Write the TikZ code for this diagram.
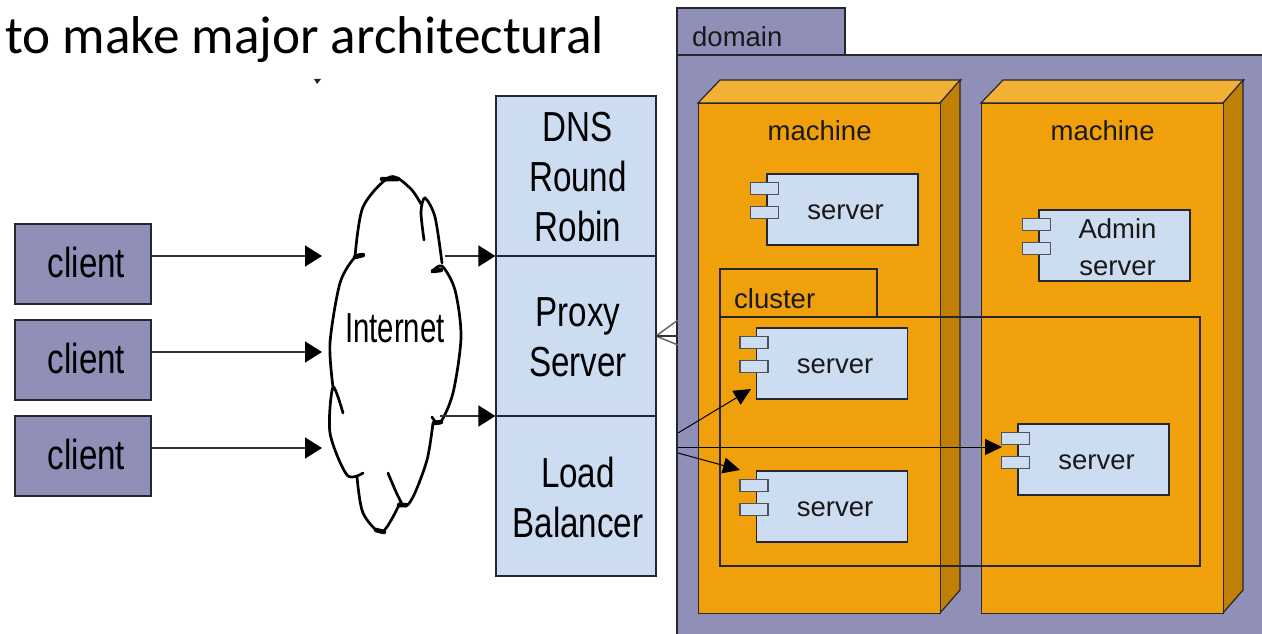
\documentclass[tikz,border=0pt]{standalone}
\usepackage{fontspec}
\setmainfont{Liberation Sans}
\newfontfamily\titlefont{Carlito}
\newfontfamily\narrowfont[FakeStretch=0.79]{Liberation Sans}
\newfontfamily\cloudfont[FakeStretch=0.7]{Liberation Sans}
\usetikzlibrary{arrows.meta,calc}
\definecolor{clientfill}{HTML}{8F8FB7}
\definecolor{bluefill}{HTML}{CCDDF2}
\definecolor{frontfill}{HTML}{F0A00A}
\definecolor{topfill}{HTML}{F2B035}
\definecolor{sidefill}{HTML}{BF8005}
\definecolor{edgecol}{HTML}{262630}
\newcommand{\clienttxt}[1]{\hspace*{7pt}\raisebox{2pt}[\height][\depth]{#1}}
\newcommand{\stacktxt}[1]{\hspace*{4pt}\raisebox{-1pt}[\height][\depth]{#1}}
\newcommand{\srvtxt}[1]{\hspace*{6pt}\raisebox{-3pt}[\height][\depth]{#1}}
\newcommand{\admintxt}[1]{\hspace*{6pt}\raisebox{-2pt}[\height][\depth]{#1}}
\tikzset{
  bigtext/.style={font=\narrowfont\fontsize{42}{50}\selectfont,align=center,text=black},
  smalltext/.style={font=\fontsize{27.5}{37}\selectfont,align=center,text=black!90},
  clientbox/.style={draw=edgecol,line width=1.2pt,fill=clientfill,minimum width=136pt,minimum height=80pt,inner sep=0pt,bigtext},
  stackbox/.style={draw=edgecol,line width=1.2pt,fill=bluefill,minimum width=160pt,minimum height=160pt,inner sep=0pt,bigtext},
  srvbox/.style={draw=edgecol,line width=1.2pt,fill=bluefill,minimum width=151pt,minimum height=71pt,inner sep=0pt,smalltext},
  srvtab/.style={draw=edgecol!80,line width=1.2pt,fill=bluefill},
  thinline/.style={draw=edgecol,line width=1.2pt},
  flow/.style={-{Triangle[length=17pt,width=21pt,color=black]},line width=1.6pt,draw=black!80},
  fan/.style={-{Triangle[length=17pt,width=16pt]},line width=1pt,draw=black},
  cloudline/.style={line width=2.7pt,black,smooth,line cap=round},
  cloudblob/.style={line width=4.5pt,black,line cap=round}
}
\begin{document}
\begin{tikzpicture}[x=1pt,y=-1pt]
  \useasboundingbox (0,0) rectangle (1262,634);
  % heading
  \node (heading) [anchor=base west,inner sep=0pt,font=\titlefont\fontsize{53.2}{58}\selectfont] at (5,54) {to make major architectural};
  \fill[black!85] (314,79) -- (321,79) -- (317,84) -- cycle;
  % clients
  \node (client1) [clientbox] at (83,264) {\clienttxt{client}};
  \node (client2) [clientbox] at (83,360) {\clienttxt{client}};
  \node (client3) [clientbox] at (83,456) {\clienttxt{client}};
  % internet cloud
  \draw[cloudline] plot coordinates {(424,240) (421,212) (425,198) (435,217) (442,263)};
  \draw[cloudline] plot coordinates {(432,272) (442,266) (455,290) (461,337) (453,393) (440,423) (432,417)};
  \draw[cloudline] plot coordinates {(433,423) (427,460) (413,497) (403,505) (388,473)};
  \draw[cloudline] plot coordinates {(400,503) (382,532) (363,513) (357,477)};
  \draw[cloudline] plot coordinates {(363,473) (347,475) (330,433) (333,387) (343,413)};
  \draw[cloudline] plot coordinates {(333,387) (330,343) (340,283) (355,257) (363,255)};
  \draw[cloudline] plot coordinates {(355,257) (363,207) (390,177) (410,188) (421,204)};
  \draw[cloudblob] (382,179) -- (398,179) (355,257) -- (363,255) (433,271) -- (441,270)
    (434,423) -- (441,422) (399,505) -- (406,505) (376,530) -- (384,532);
  \node (internet) [font=\cloudfont\fontsize{42}{50}\selectfont,inner sep=0pt] at (395,328) {Internet};
  % front end stack
  \node (dns) [stackbox] at (576,176) {\stacktxt{DNS}\\\stacktxt{Round}\\\stacktxt{Robin}};
  \node (proxy) [stackbox] at (576,336) {\stacktxt{Proxy}\\\stacktxt{Server}};
  \node (balancer) [stackbox] at (576,496) {\stacktxt{Load}\\\stacktxt{Balancer}};
  % domain
  \node (domaintab) [thinline,fill=clientfill,minimum width=168pt,minimum height=47pt,inner sep=0pt] at (761,31.5) {};
  \node (domain) [thinline,fill=clientfill,minimum width=590pt,minimum height=590pt,inner sep=0pt] at (972,350) {};
  \node [smalltext,anchor=base west,inner sep=0pt] at (692,47) {domain};
  % machines
  \foreach \x/\n in {698/mOne,981/mTwo}{
    \draw[thinline,fill=topfill] (\x,103) -- ++(22,-23) -- ++(241,0) -- ++(-21,23) -- cycle;
    \draw[thinline,fill=sidefill] (\x+242,103) -- ++(20,-23) -- ++(0,510) -- ++(-20,23) -- cycle;
    \node (\n) [thinline,fill=frontfill,minimum width=242pt,minimum height=510pt,inner sep=0pt,anchor=north west] at (\x,103) {};
    \node [smalltext,inner sep=0pt] at ($(\n.north)+(0,28)$) {machine};
  }
  % cluster
  \draw[thinline] (720,317) rectangle (1200,566);
  \draw[thinline] (720,317) -- (720,269) -- (877,269) -- (877,317);
  \node [smalltext,anchor=base west,inner sep=0pt] at (734,308) {cluster};
  % servers
  \node (srvA) [srvbox] at (842.5,209.5) {\srvtxt{server}};
  \node (srvAdmin) [srvbox] at (1114.5,245.5) {\admintxt{Admin}\\\admintxt{server}};
  \node (srvB) [srvbox] at (832,363.5) {\srvtxt{server}};
  \node (srvC) [srvbox] at (832,506.5) {\srvtxt{server}};
  \node (srvD) [srvbox] at (1093.5,459.5) {\srvtxt{server}};
  \foreach \n in {srvA,srvAdmin,srvB,srvC,srvD}{
    \draw[srvtab] ($(\n.north west)+(-16,9)$) rectangle +(28,12);
    \draw[srvtab] ($(\n.north west)+(-16,33)$) rectangle +(28,12);
  }
  % arrows into the cloud
  \foreach \i/\y in {1/256,2/352,3/448}{
    \coordinate (cloudin\i) at (322,\y);
    \draw[flow] (client\i.east |- cloudin\i) -- (cloudin\i);
  }
  % arrows out of the cloud
  \coordinate (cloudoutA) at (445,256);
  \coordinate (cloudoutB) at (440,416);
  \draw[flow] (cloudoutA) -- (cloudoutA -| dns.west);
  \draw[flow] (cloudoutB) -- (cloudoutB -| proxy.west);
  % proxy to domain
  \coordinate (proxytip) at (656,336);
  \draw[black!60,line width=1.5pt] (proxytip) -- (678,320) (proxytip) -- (678,345);
  \draw[black!80,line width=1.3pt] (proxytip) -- (678,336);
  % balancer to servers
  \coordinate (fanA) at (678,433);
  \coordinate (fanB) at (678,447);
  \coordinate (fanC) at (678,453);
  \coordinate (tipB) at (751,389);
  \coordinate (tipC) at (740,470);
  \coordinate (tipD) at (1002,447);
  \draw[fan] (fanA) -- (tipB);
  \draw[fan] (fanC) -- (tipC);
  \draw[fan] (fanB) -- (tipD);
\end{tikzpicture}
\end{document}
